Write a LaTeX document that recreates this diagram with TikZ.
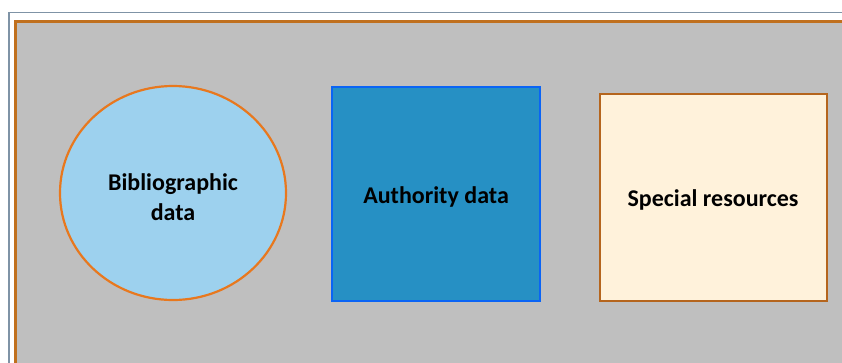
\documentclass[tikz,border=0pt]{standalone}
\usepackage{fontspec}
\setmainfont{Carlito}
\usetikzlibrary{positioning}
\usetikzlibrary{shapes.geometric}

\definecolor{framegray}{HTML}{7F93A6}
\definecolor{frameorange}{HTML}{C0701E}
\definecolor{panelgray}{HTML}{BFBFBF}
\definecolor{bibfill}{HTML}{9DD1EE}
\definecolor{biborange}{HTML}{E8781E}
\definecolor{authfill}{HTML}{2690C4}
\definecolor{authblue}{HTML}{0A64F5}
\definecolor{specfill}{HTML}{FFF2DB}
\definecolor{specbrown}{HTML}{B5651D}

\tikzset{
  datanode/.style={font=\fontsize{24}{30}\selectfont\bfseries, align=center, inner sep=0pt},
}

\begin{document}
\begin{tikzpicture}[x=1pt, y=-1pt]
            \useasboundingbox (0, 0) rectangle (842, 362);

            % outer frame
            \draw[framegray, line width=1.5pt] (9, 380) -- (9, 12.5) -- (860, 12.5);
            \draw[frameorange, line width=2.5pt, fill=panelgray] (15.5, 21.5) rectangle (870, 380);

            \node[datanode, ellipse, draw=biborange, line width=2.2pt, fill=bibfill,
                  minimum width=226pt, minimum height=214pt] (bib) at (173, 193) {};
            \node[datanode] (bibtext) at (173, 197) {Bibliographic\\data};
            \node[datanode, rectangle, draw=authblue, line width=2.2pt, fill=authfill,
                  minimum width=208pt, minimum height=214pt] (auth) at (436, 194) {};
            \node[datanode] (authtext) at (436, 196.5) {Authority data};
            \node[datanode, rectangle, draw=specbrown, line width=2.2pt, fill=specfill,
                  minimum width=227pt, minimum height=207pt] (spec) at (713.5, 197.5) {};
            \node[datanode] (spectext) at (713, 199.5) {Special resources};

          \end{tikzpicture}
\end{document}
